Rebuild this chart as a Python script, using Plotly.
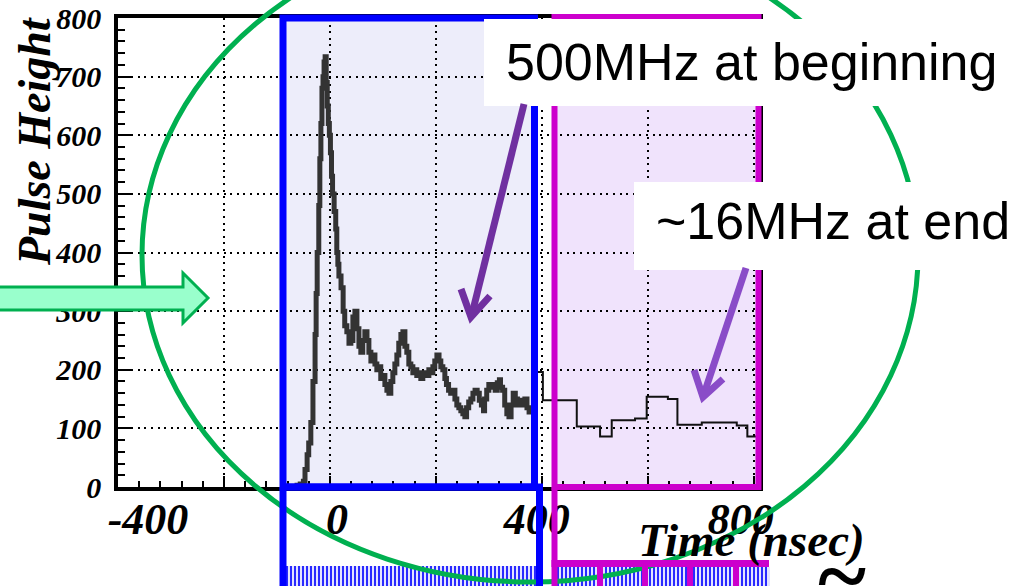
import plotly.graph_objects as go

# ---------------- data ----------------
fine_t = [-35, -31, -28, -25, -23.5, -21.5, -20, -18, -16, -14, -13, -12, -10.5, -9.5, -8.5, -7.5,
          -6.5, -5.5, -4.5, -3.5, -2.5, -1.5, -0.5, 0.5, 1.5, 2.5, 4, 5.5, 6.5, 7.5, 8.5, 10.5,
          12.5, 14, 16, 18, 19.8, 21.7, 23.6, 25.5, 27.4, 29.2, 31, 33, 35, 36.8, 38.7, 40.6,
          42.5, 44.3, 46.2, 48, 50, 51.9, 53.8, 55.7, 57.5, 59.4, 61.3, 63.2, 65, 67, 68.9,
          70.8, 72.6, 74.5, 76.4, 78.3, 80.2, 82, 84, 85.8, 87.7, 89.6, 91.5, 93.4, 95.3, 97.2,
          99, 101, 103, 104.7, 106.6, 108.5, 110, 112, 114, 116, 118, 119.8, 121.7, 123.6,
          125.5, 127.4, 129, 131, 133, 135, 137, 139, 141, 143, 145, 146, 148, 150, 152, 154,
          156, 158, 160, 161, 163, 165, 167, 169, 171, 173, 175, 177, 179, 180.2, 182, 184,
          186, 188, 190]
fine_h = [0, 3, 5, 10, 30, 55, 75, 110, 180, 260, 330, 400, 480, 560, 620, 680,
          700, 725, 734, 690, 650, 620, 600, 570, 530, 500, 470, 440, 400, 380, 360, 340,
          300, 275, 265, 245, 250, 290, 300, 270, 240, 230, 250, 265, 250, 230, 215, 225,
          210, 200, 205, 185, 190, 175, 165, 160, 180, 195, 210, 225, 245, 260, 265,
          240, 230, 210, 205, 195, 200, 190, 195, 185, 190, 195, 190, 200, 195, 205,
          215, 225, 215, 205, 200, 185, 175, 165, 160, 165, 150, 140, 135, 130,
          125, 120, 135, 145, 150, 160, 165, 160, 148, 140, 130, 150, 165, 175, 170, 175,
          165, 178, 183, 170, 165, 140, 125, 120, 140, 160, 150, 140, 148, 145, 140, 150,
          135, 128, 128]

coarse_edges = [190, 201, 233, 255, 266, 288, 299, 319, 328, 351, 384, 394, 405]
coarse_h = [196, 148, 103, 86, 114, 117, 154, 150, 106, 110, 105, 86]

y_ticks = [0, 100, 200, 300, 400, 500, 600, 700, 800]
x_tick_text = ["-400", "0", "400", "800"]
x_tick_pos = [-171.7, 6.6, 195.3, 387.7]

title_y = "Pulse Height"
title_x = "Time (nsec)"
note_begin = "500MHz at beginning"
note_end = "~16MHz at end"

# ---------------- geometry helpers (pixel -> paper) ----------------
W, H = 1024, 586
L, R, T, B = 118, 759, 18, 487


def X(px):
    return (px - L) / (R - L)


def Y(py):
    return (B - py) / (B - T)


def rect(x0, y0, x1, y1, **kw):
    return dict(type="rect", xref="paper", yref="paper",
                x0=X(x0), x1=X(x1), y0=Y(y1), y1=Y(y0), **kw)


def line(x0, y0, x1, y1, color, width):
    return dict(type="line", xref="paper", yref="paper",
                x0=X(x0), y0=Y(y0), x1=X(x1), y1=Y(y1),
                line=dict(color=color, width=width))


def path(points, color, width, fill=None, closed=False):
    d = "M" + " L".join(f"{X(a):.5f},{Y(b):.5f}" for a, b in points)
    if closed:
        d += " Z"
    s = dict(type="path", xref="paper", yref="paper", path=d,
             line=dict(color=color, width=width))
    if fill:
        s["fillcolor"] = fill
    return s


def stripes(x0, x1, y0, y1, step=4):
    d = []
    x = x0 + 1
    while x < x1:
        d.append(f"M{X(x):.5f},{Y(y0):.5f} L{X(x):.5f},{Y(y1):.5f}")
        x += step
    return dict(type="path", xref="paper", yref="paper", path=" ".join(d),
                line=dict(color="#2a2aff", width=2))


# ---------------- figure ----------------
fig = go.Figure()

# coarse-binned section (step histogram)
fig.add_trace(go.Scatter(
    x=coarse_edges, y=coarse_h + [coarse_h[-1]], mode="lines",
    line=dict(color="#111111", width=2, shape="hv"), xaxis="x2",
    hoverinfo="skip", showlegend=False))

# fine-binned section
fig.add_trace(go.Scatter(
    x=fine_t, y=fine_h, mode="lines",
    line=dict(color="#333333", width=5, shape="hv"),
    hoverinfo="skip", showlegend=False))

serif_bi = dict(family="Liberation Serif", color="black", weight="bold", style="italic")

shapes = []
# translucent fills under the grid
shapes.append(rect(283, 18, 534, 487, fillcolor="#ededfa", line=dict(width=0), layer="below"))
shapes.append(rect(555, 17, 758, 487, fillcolor="#f0e3fc", line=dict(width=0), layer="below"))

# striped bands at the bottom
shapes.append(rect(286, 566, 536, 590, fillcolor="#e4e4ff", line=dict(width=0)))
shapes.append(stripes(286, 536, 566, 590))
shapes.append(rect(557, 567, 770, 590, fillcolor="#e4e4ff", line=dict(width=0)))
shapes.append(stripes(557, 770, 567, 590))

# green ellipse
shapes.append(dict(type="circle", xref="paper", yref="paper",
                   x0=X(142), x1=X(918), y0=Y(582), y1=Y(-72),
                   line=dict(color="#00b050", width=5)))

# blue frame + bracket
BLUE = "#0000ff"
shapes.append(rect(283, 18, 534.5, 487, line=dict(color=BLUE, width=7)))
shapes.append(line(283, 487, 283, 590, BLUE, 7))
shapes.append(line(539.5, 484, 539.5, 590, BLUE, 7))
shapes.append(line(280, 487, 543, 487, BLUE, 7))

# magenta frame + bracket
MAG = "#cc00cc"
shapes.append(rect(554.5, 17, 758.5, 487, line=dict(color=MAG, width=6)))
shapes.append(line(554.5, 487, 554.5, 590, MAG, 6))
shapes.append(line(551.5, 563.5, 769, 563.5, MAG, 7))
for xd in (600, 645, 690, 736):
    shapes.append(line(xd, 563, xd, 590, MAG, 6))

# green block arrow on the left
shapes.append(path([(-5, 287), (183, 287), (183, 273), (208, 298), (183, 323),
                    (183, 310), (-5, 310)], "#00b050", 3, fill="#99ffcc", closed=True))

# white note boxes
shapes.append(rect(484, 19, 1030, 106, fillcolor="white", line=dict(width=0)))
shapes.append(rect(634, 182, 1030, 270, fillcolor="white", line=dict(width=0)))

# purple arrows
P1 = "#7030a0"
shapes.append(line(524, 104, 472, 314, P1, 7))
shapes.append(path([(461, 289), (471, 317), (490, 296)], P1, 7))
P2 = "#8a4cc8"
shapes.append(line(746, 268, 704, 394, P2, 7))
shapes.append(path([(694, 370), (703, 397), (723, 379)], P2, 7))

annotations = [
    dict(text=note_begin, xref="paper", yref="paper", x=X(751), y=Y(62),
         showarrow=False, xanchor="center", yanchor="middle",
         font=dict(family="Liberation Sans", size=52, color="black")),
    dict(text=note_end, xref="paper", yref="paper", x=X(833), y=Y(221),
         showarrow=False, xanchor="center", yanchor="middle",
         font=dict(family="Liberation Sans", size=52, color="black")),
    dict(text=title_y, xref="paper", yref="paper", x=X(35), y=Y(141),
         showarrow=False, textangle=-90, xanchor="center", yanchor="middle",
         font=dict(size=46, **serif_bi)),
    dict(text=title_x, xref="paper", yref="paper", x=X(751), y=Y(540),
         showarrow=False, xanchor="center", yanchor="middle",
         font=dict(size=47, **serif_bi)),
    dict(text="~", xref="paper", yref="paper", x=X(841), y=Y(575),
         showarrow=False, xanchor="center", yanchor="middle",
         font=dict(size=92, **serif_bi)),
]

grid_style = dict(showgrid=True, gridcolor="black", gridwidth=2, griddash="2px,4.6px")

fig.update_layout(
    width=W, height=H,
    margin=dict(l=L, r=W - R, t=T, b=H - B, pad=0, autoexpand=False),
    paper_bgcolor="white", plot_bgcolor="rgba(0,0,0,0)",
    showlegend=False,
    xaxis=dict(range=[-200, 405], tickmode="linear", tick0=0, dtick=100, automargin=False,
               ticks="inside", ticklen=11, tickwidth=2, tickcolor="black",
               minor=dict(dtick=20, tick0=0, ticks="inside", ticklen=6, tickwidth=2,
                          tickcolor="black", showgrid=False),
               showticklabels=False, showline=True, linecolor="black", linewidth=3.5,
               mirror=True, zeroline=False, **grid_style),
    xaxis2=dict(overlaying="x", matches="x", anchor="y", side="bottom", automargin=False,
                tickmode="array", tickvals=x_tick_pos, ticktext=x_tick_text,
                ticks="", showgrid=False, showline=False, zeroline=False,
                ticklabeloverflow="allow",
                ticklabelstandoff=2, tickfont=dict(size=44, **serif_bi)),
    yaxis=dict(range=[0, 800], tickmode="array", tickvals=y_ticks, automargin=False,
               ticks="inside", ticklen=14, tickwidth=2, tickcolor="black",
               minor=dict(dtick=20, tick0=0, ticks="inside", ticklen=7, tickwidth=2,
                          tickcolor="black", showgrid=False),
               showline=True, linecolor="black", linewidth=3.5, mirror=True,
               zeroline=False, ticklabelstandoff=7, ticklabeloverflow="allow",
               tickfont=dict(size=30, **serif_bi), **grid_style),
    shapes=shapes,
    annotations=annotations,
)

fig.write_html("out.html")
